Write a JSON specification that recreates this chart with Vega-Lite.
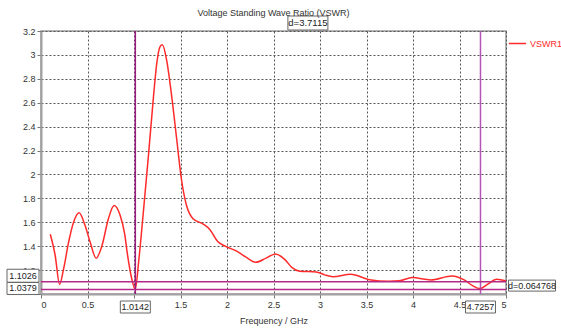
{
  "$schema": "https://vega.github.io/schema/vega-lite/v6.json",
  "width": 465,
  "height": 263,
  "autosize": "none",
  "padding": {"left": 41, "top": 31, "right": 55, "bottom": 34},
  "background": "white",
  "config": {
    "font": "Liberation Sans",
    "view": {"stroke": "#9a9a9a", "strokeWidth": 1.5},
    "axis": {
      "grid": true,
      "gridDash": [2, 2],
      "gridColor": "#555555",
      "gridWidth": 1,
      "domainColor": "#a0a0a0",
      "domainWidth": 2,
      "tickColor": "#777777",
      "tickSize": 4,
      "labelFontSize": 9,
      "labelColor": "#333333",
      "labelPadding": 2,
      "labelOverlap": false,
      "titleFontSize": 9,
      "titleFontWeight": "normal",
      "titleColor": "#333333"
    }
  },
  "title": {
    "text": "Voltage Standing Wave Ratio (VSWR)",
    "fontSize": 9,
    "fontWeight": "normal",
    "color": "#333333",
    "anchor": "middle",
    "frame": "group",
    "offset": 10,
    "dy": 14
  },
  "layer": [
    {
      "data": {
        "values": [
          {"f": 0.10, "v": 1.50}, {"f": 0.153, "v": 1.32}, {"f": 0.20, "v": 1.08},
          {"f": 0.243, "v": 1.21}, {"f": 0.296, "v": 1.43}, {"f": 0.35, "v": 1.60},
          {"f": 0.41, "v": 1.68}, {"f": 0.475, "v": 1.57}, {"f": 0.53, "v": 1.43},
          {"f": 0.593, "v": 1.30}, {"f": 0.654, "v": 1.40}, {"f": 0.725, "v": 1.63},
          {"f": 0.786, "v": 1.74}, {"f": 0.85, "v": 1.66}, {"f": 0.90, "v": 1.50},
          {"f": 0.93, "v": 1.33}, {"f": 0.975, "v": 1.13}, {"f": 1.014, "v": 1.04},
          {"f": 1.05, "v": 1.27}, {"f": 1.10, "v": 1.68}, {"f": 1.155, "v": 2.155},
          {"f": 1.21, "v": 2.655}, {"f": 1.245, "v": 2.93}, {"f": 1.28, "v": 3.07},
          {"f": 1.305, "v": 3.085}, {"f": 1.35, "v": 2.96}, {"f": 1.405, "v": 2.655},
          {"f": 1.46, "v": 2.29}, {"f": 1.51, "v": 1.96}, {"f": 1.565, "v": 1.74},
          {"f": 1.635, "v": 1.63}, {"f": 1.745, "v": 1.585}, {"f": 1.815, "v": 1.54},
          {"f": 1.90, "v": 1.44}, {"f": 1.98, "v": 1.40}, {"f": 2.10, "v": 1.36},
          {"f": 2.20, "v": 1.31}, {"f": 2.31, "v": 1.265}, {"f": 2.42, "v": 1.30},
          {"f": 2.52, "v": 1.335}, {"f": 2.62, "v": 1.29}, {"f": 2.70, "v": 1.22},
          {"f": 2.78, "v": 1.19}, {"f": 2.96, "v": 1.185}, {"f": 3.05, "v": 1.16},
          {"f": 3.14, "v": 1.145}, {"f": 3.33, "v": 1.165}, {"f": 3.53, "v": 1.12},
          {"f": 3.74, "v": 1.107}, {"f": 3.85, "v": 1.11}, {"f": 3.99, "v": 1.137},
          {"f": 4.19, "v": 1.118}, {"f": 4.42, "v": 1.151}, {"f": 4.55, "v": 1.118},
          {"f": 4.64, "v": 1.07}, {"f": 4.72, "v": 1.045}, {"f": 4.80, "v": 1.08},
          {"f": 4.90, "v": 1.124}, {"f": 5.0, "v": 1.11}
        ]
      },
      "mark": {"type": "line", "interpolate": "monotone", "strokeWidth": 1.5},
      "encoding": {
        "x": {
          "field": "f", "type": "quantitative",
          "scale": {"domain": [0, 5], "nice": false, "zero": false},
          "axis": {"values": [0, 0.5, 1, 1.5, 2, 2.5, 3, 3.5, 4, 4.5, 5], "labelExpr": "datum.value == 1 ? '' : format(datum.value, '~g')", "title": "Frequency / GHz", "titlePadding": 7}
        },
        "y": {
          "field": "v", "type": "quantitative",
          "scale": {"domain": [1, 3.2], "nice": false, "zero": false},
          "axis": {"values": [1, 1.2, 1.4, 1.6, 1.8, 2, 2.2, 2.4, 2.6, 2.8, 3, 3.2], "labelExpr": "datum.value == 1 ? '' : format(datum.value, '.1~f')", "title": null, "labelOverlap": false}
        },
        "color": {
          "datum": "VSWR1",
          "scale": {"domain": ["VSWR1"], "range": ["#ff2a2a"]},
          "legend": {
            "orient": "none", "legendX": 467, "legendY": 3, "title": null,
            "symbolType": "stroke", "symbolStrokeWidth": 1.5, "symbolSize": 300,
            "labelColor": "#ff2a2a", "labelFontSize": 9, "labelOffset": 3
          }
        }
      }
    },
    {
      "data": {"values": [{"f": 1.0142}]},
      "mark": {"type": "rule", "color": "#9a1a80", "strokeWidth": 1.5},
      "encoding": {"x": {"field": "f", "type": "quantitative", "axis": {"values": [0, 0.5, 1, 1.5, 2, 2.5, 3, 3.5, 4, 4.5, 5], "labelExpr": "datum.value == 1 ? '' : format(datum.value, '~g')", "title": "Frequency / GHz", "titlePadding": 7}}}
    },
    {
      "data": {"values": [{"f": 4.7257}]},
      "mark": {"type": "rule", "color": "#b455b4", "strokeWidth": 1.5},
      "encoding": {"x": {"field": "f", "type": "quantitative", "axis": {"values": [0, 0.5, 1, 1.5, 2, 2.5, 3, 3.5, 4, 4.5, 5], "labelExpr": "datum.value == 1 ? '' : format(datum.value, '~g')", "title": "Frequency / GHz", "titlePadding": 7}}}
    },
    {
      "data": {"values": [{"v": 1.1026}, {"v": 1.0379}]},
      "mark": {"type": "rule", "color": "#b42a86", "strokeWidth": 1.5},
      "encoding": {"y": {"field": "v", "type": "quantitative", "axis": {"values": [1, 1.2, 1.4, 1.6, 1.8, 2, 2.2, 2.4, 2.6, 2.8, 3, 3.2], "labelExpr": "datum.value == 1 ? '' : format(datum.value, '.1~f')", "title": null, "labelOverlap": false}}}
    },
    {
      "data": {"values": [{"v": 1.1026, "label": "1.1026"}]},
      "layer": [
        {"mark": {"type": "point", "shape": "M-16,-6.5H16V6.5H-16Z", "size": 4, "filled": true, "fill": "white", "stroke": "#666666", "strokeWidth": 1, "opacity": 1, "xOffset": -18, "yOffset": -6}},
        {"mark": {"type": "text", "fontSize": 9, "color": "#222222", "xOffset": -18, "yOffset": -6, "align": "center", "baseline": "middle"}, "encoding": {"text": {"field": "label"}}}
      ],
      "encoding": {
        "x": {"datum": 0, "type": "quantitative", "axis": {"values": [0, 0.5, 1, 1.5, 2, 2.5, 3, 3.5, 4, 4.5, 5], "labelExpr": "datum.value == 1 ? '' : format(datum.value, '~g')", "title": "Frequency / GHz", "titlePadding": 7}},
        "y": {"field": "v", "type": "quantitative", "axis": {"values": [1, 1.2, 1.4, 1.6, 1.8, 2, 2.2, 2.4, 2.6, 2.8, 3, 3.2], "labelExpr": "datum.value == 1 ? '' : format(datum.value, '.1~f')", "title": null, "labelOverlap": false}}
      }
    },
    {
      "data": {"values": [{"v": 1.0379, "label": "1.0379"}]},
      "layer": [
        {"mark": {"type": "point", "shape": "M-16,-6H16V6H-16Z", "size": 4, "filled": true, "fill": "white", "stroke": "#666666", "strokeWidth": 1, "opacity": 1, "xOffset": -18, "yOffset": -1}},
        {"mark": {"type": "text", "fontSize": 9, "color": "#222222", "xOffset": -18, "yOffset": -1, "align": "center", "baseline": "middle"}, "encoding": {"text": {"field": "label"}}}
      ],
      "encoding": {
        "x": {"datum": 0, "type": "quantitative", "axis": {"values": [0, 0.5, 1, 1.5, 2, 2.5, 3, 3.5, 4, 4.5, 5], "labelExpr": "datum.value == 1 ? '' : format(datum.value, '~g')", "title": "Frequency / GHz", "titlePadding": 7}},
        "y": {"field": "v", "type": "quantitative", "axis": {"values": [1, 1.2, 1.4, 1.6, 1.8, 2, 2.2, 2.4, 2.6, 2.8, 3, 3.2], "labelExpr": "datum.value == 1 ? '' : format(datum.value, '.1~f')", "title": null, "labelOverlap": false}}
      }
    },
    {
      "data": {"values": [{"f": 1.0142, "label": "1.0142"}, {"f": 4.7257, "label": "4.7257"}]},
      "layer": [
        {"mark": {"type": "point", "shape": "M-15,-6H15V6H-15Z", "size": 4, "filled": true, "fill": "white", "stroke": "#666666", "strokeWidth": 1, "opacity": 1, "yOffset": 13}},
        {"mark": {"type": "text", "fontSize": 9, "color": "#222222", "yOffset": 13, "align": "center", "baseline": "middle"}, "encoding": {"text": {"field": "label"}}}
      ],
      "encoding": {
        "x": {"field": "f", "type": "quantitative", "axis": {"values": [0, 0.5, 1, 1.5, 2, 2.5, 3, 3.5, 4, 4.5, 5], "labelExpr": "datum.value == 1 ? '' : format(datum.value, '~g')", "title": "Frequency / GHz", "titlePadding": 7}},
        "y": {"datum": 1, "type": "quantitative", "axis": {"values": [1, 1.2, 1.4, 1.6, 1.8, 2, 2.2, 2.4, 2.6, 2.8, 3, 3.2], "labelExpr": "datum.value == 1 ? '' : format(datum.value, '.1~f')", "title": null, "labelOverlap": false}}
      }
    },
    {
      "data": {"values": [{"f": 2.86995, "label": "d=3.7115"}]},
      "layer": [
        {"mark": {"type": "point", "shape": "M-20,-7H20V7H-20Z", "size": 4, "filled": true, "fill": "white", "stroke": "#666666", "strokeWidth": 1, "opacity": 1, "yOffset": -8}},
        {"mark": {"type": "text", "fontSize": 9.5, "color": "#222222", "yOffset": -8, "align": "center", "baseline": "middle"}, "encoding": {"text": {"field": "label"}}}
      ],
      "encoding": {
        "x": {"field": "f", "type": "quantitative", "axis": {"values": [0, 0.5, 1, 1.5, 2, 2.5, 3, 3.5, 4, 4.5, 5], "labelExpr": "datum.value == 1 ? '' : format(datum.value, '~g')", "title": "Frequency / GHz", "titlePadding": 7}},
        "y": {"datum": 3.2, "type": "quantitative", "axis": {"values": [1, 1.2, 1.4, 1.6, 1.8, 2, 2.2, 2.4, 2.6, 2.8, 3, 3.2], "labelExpr": "datum.value == 1 ? '' : format(datum.value, '.1~f')", "title": null, "labelOverlap": false}}
      }
    },
    {
      "data": {"values": [{"v": 1.07025, "label": "d=0.064768"}]},
      "layer": [
        {"mark": {"type": "point", "shape": "M-23.5,-5.5H23.5V5.5H-23.5Z", "size": 4, "filled": true, "fill": "white", "stroke": "#666666", "strokeWidth": 1, "opacity": 1, "xOffset": 26}},
        {"mark": {"type": "text", "fontSize": 9, "color": "#222222", "xOffset": 26, "align": "center", "baseline": "middle"}, "encoding": {"text": {"field": "label"}}}
      ],
      "encoding": {
        "x": {"datum": 5, "type": "quantitative", "axis": {"values": [0, 0.5, 1, 1.5, 2, 2.5, 3, 3.5, 4, 4.5, 5], "labelExpr": "datum.value == 1 ? '' : format(datum.value, '~g')", "title": "Frequency / GHz", "titlePadding": 7}},
        "y": {"field": "v", "type": "quantitative", "axis": {"values": [1, 1.2, 1.4, 1.6, 1.8, 2, 2.2, 2.4, 2.6, 2.8, 3, 3.2], "labelExpr": "datum.value == 1 ? '' : format(datum.value, '.1~f')", "title": null, "labelOverlap": false}}
      }
    }
  ]
}
